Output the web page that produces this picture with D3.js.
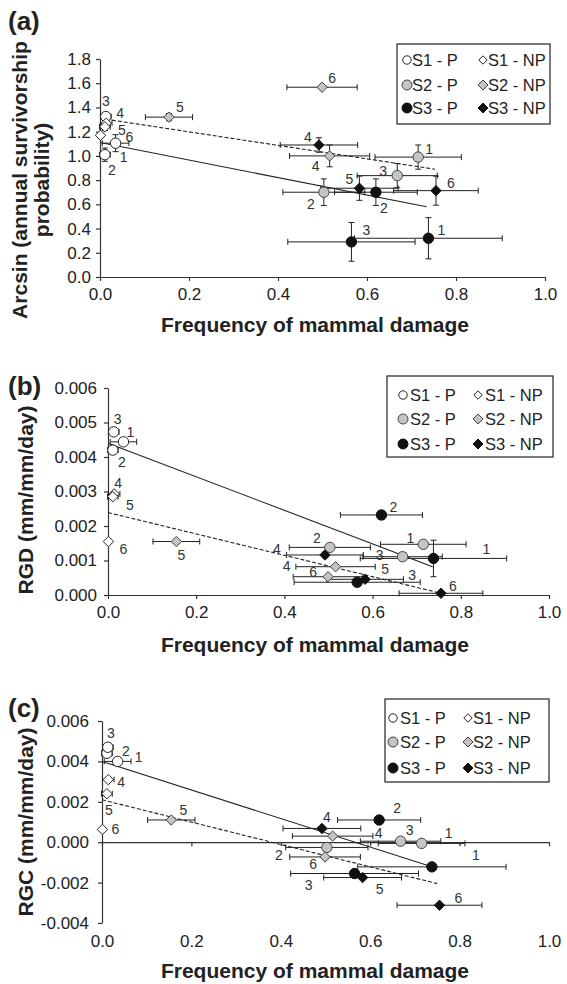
<!DOCTYPE html>
<meta charset="utf-8">
<style>
	body { margin: 0; background: #fff; }
	svg { display: block; font-family: "Liberation Sans", Arial, sans-serif; }
	.axis path, .axis line { stroke: #333; stroke-width: 1.2; }
	.axis text { font-size: 17px; fill: #222; font-family: "Liberation Sans", Arial, sans-serif; }
	.title { font-weight: bold; font-size: 21px; fill: #222; }
	.letter { font-weight: bold; font-size: 26px; fill: #222; }
	.ptlabel { font-size: 14px; fill: #333; text-anchor: middle; }
	.legend text { font-size: 16.5px; fill: #222; }
	.err { stroke: #222; stroke-width: 1; fill: none; }
</style>
<script src="https://d3js.org/d3.v7.min.js"></script>
<svg id="chart" width="567" height="984"></svg>
<script>

	// groups, in legend order (row by row)
	var groups = ["S1 - P", "S1 - NP", "S2 - P", "S2 - NP", "S3 - P", "S3 - NP"];
	var pointIds = [["1","2","3"], ["4","5","6"], ["1","2","3"], ["4","5","6"], ["1","2","3"], ["4","5","6"]];

	// frequency of mammal damage (same in all panels)
	var freq = [
		[0.035, 0.011, 0.013],
		[0.014, 0.011, 0.001],
		[0.715, 0.503, 0.668],
		[0.516, 0.155, 0.499],
		[0.738, 0.620, 0.565],
		[0.492, 0.583, 0.755]
	];
	var freqErr = [
		[0.030, 0.012, 0.012],
		[0.013, 0.012, 0],
		[0.097, 0.092, 0.090],
		[0.090, 0.053, 0.079],
		[0.166, 0.093, 0.143],
		[0.087, 0.087, 0.095]
	];

	// (a) arcsin annual survivorship
	var survival = [
		[1.105, 1.01, 1.325],
		[1.27, 1.24, 1.17],
		[0.99, 0.70, 0.837],
		[1.00, 1.32, 1.567],
		[0.32, 0.70, 0.29],
		[1.09, 0.733, 0.713]
	];
	var survivalErr = [
		[0.07, 0.055, 0.03],
		[0.03, 0.03, 0.02],
		[0.10, 0.11, 0.10],
		[0.09, 0.03, 0],
		[0.17, 0.11, 0.16],
		[0.06, 0.10, 0.12]
	];

	// (b) RGD
	var rgd = [
		[0.00444, 0.00420, 0.00473],
		[0.00293, 0.00285, 0.00155],
		[0.00147, 0.00138, 0.00111],
		[0.00082, 0.00155, 0.00053],
		[0.00106, 0.00232, 0.00037],
		[0.00116, 0.000455, 0.00005]
	];
	var rgdErr = [
		[0.00005, 0.00005, 0.00005],
		[0.00005, 0.00005, 0],
		[0.00005, 0.00005, 0.0001],
		[0.00005, 0.00005, 0.00005],
		[0.00053, 0.00012, 0.00005],
		[0.00008, 0.00005, 0.00005]
	];

	// (c) RGC
	var rgc = [
		[0.0040, 0.0044, 0.0047],
		[0.0031, 0.0024, 0.00063],
		[-0.00006, -0.00026, 0.00005],
		[0.0003, 0.0011, -0.00073],
		[-0.00122, 0.0011, -0.00155],
		[0.00068, -0.00175, -0.00312]
	];
	var rgcErr = [
		[0.00005, 0.00005, 0.00005],
		[0.00005, 0.00005, 0],
		[0.00005, 0.00005, 0.00005],
		[0.00005, 0.00005, 0.00005],
		[0.00005, 0.00012, 0.00005],
		[0.0001, 0.0001, 0.00008]
	];

	// regression lines (P solid, NP dashed): [x, y] end points
	var fitSurvivalP = [[0, 1.11], [0.734, 0.58]];
	var fitSurvivalNP = [[0, 1.31], [0.753, 0.89]];
	var fitRgdP = [[0, 0.0044], [0.736, 0.00082]];
	var fitRgdNP = [[0, 0.00239], [0.755, 0.00005]];
	var fitRgcP = [[0, 0.0040], [0.738, -0.00122]];
	var fitRgcNP = [[0, 0.0021], [0.75, -0.00205]];

	// tick labels
	var xTicks = [0, 0.2, 0.4, 0.6, 0.8, 1.0];
	var yTicksA = [0, 0.2, 0.4, 0.6, 0.8, 1.0, 1.2, 1.4, 1.6, 1.8];
	var yTicksB = [0, 0.001, 0.002, 0.003, 0.004, 0.005, 0.006];
	var yTicksC = [-0.004, -0.002, 0, 0.002, 0.004, 0.006];

	// point label offsets [dx, dy] per panel
	var offA = [
		[[8,14],[7,15],[0,-15]],
		[[14,-10],[17,3],[29,2]],
		[[11,-8],[-13,12],[-14,-5]],
		[[-14,10],[11,-10],[10,-9]],
		[[13,-8],[8,16],[15,-12]],
		[[-11,-8],[-10,-9],[15,-8]]
	];
	var offB = [
		[[7,-10],[9,12],[4,-13]],
		[[4,-11],[17,8],[15,8]],
		[[-13,-6],[-13,-9],[-23,-2]],
		[[-49,-1],[5,14],[-15,-5]],
		[[53,-9],[12,-8],[55,-7]],
		[[-48,-6],[20,-10],[12,-7]]
	];
	var offC = [
		[[21,-4],[19,-2],[3,-14]],
		[[13,3],[2,16],[13,0]],
		[[27,-10],[-48,8],[9,-11]],
		[[46,-3],[12,-10],[-12,7]],
		[[44,-12],[18,-12],[-46,12]],
		[[5,-11],[17,12],[19,-7]]
	];

	var fills = ["#fff", "#fff", "#c4c4c4", "#c4c4c4", "#111", "#111"];
	var strokes = ["#222", "#222", "#444", "#444", "#111", "#111"];

	var svg = d3.select("#chart");
	var minus = function(s) { return s.replace("\u2212", "-"); };

	var panels = [
		{ letter: "(a)", letterY: 30, y: survival, yErr: survivalErr, fits: [fitSurvivalP, fitSurvivalNP],
		  yTicks: yTicksA, fmt: ".1f", xr: [100, 545], yd: [0, 1.8], yr: [277, 59], pad: 5, off: offA,
		  ylab: ["Arcsin (annual survivorship", "probability)"], ylabX: [27, 49], ylabY: 180, titleY: 332,
		  leg: { x: 397, y: 44, w: 153, h: 80, rows: [16, 41, 64], mx: [10, 86], tx: [15, 91] } },
		{ letter: "(b)", letterY: 395, y: rgd, yErr: rgdErr, fits: [fitRgdP, fitRgdNP],
		  yTicks: yTicksB, fmt: ".3f", xr: [108, 549], yd: [0, 0.006], yr: [595, 388], pad: 7, off: offB,
		  ylab: ["RGD (mm/mm/day)"], ylabX: [33], ylabY: 500, titleY: 652,
		  leg: { x: 387, y: 376, w: 166, h: 81, rows: [19, 43, 68], mx: [16, 91], tx: [23, 98] } },
		{ letter: "(c)", letterY: 717, y: rgc, yErr: rgcErr, fits: [fitRgcP, fitRgcNP],
		  yTicks: yTicksC, fmt: ".3f", xr: [102, 549], yd: [-0.004, 0.006], yr: [923, 721], pad: 9, off: offC,
		  ylab: ["RGC (mm/mm/day)"], ylabX: [33], ylabY: 822, titleY: 978,
		  leg: { x: 385, y: 699, w: 164, h: 83, rows: [19, 43, 69], mx: [8, 83], tx: [15, 88] } }
	];

	function marker(sel, i, r) {
		if (i % 2 === 0) {
			sel.append("circle").attr("r", r)
				.attr("fill", fills[i]).attr("stroke", strokes[i]).attr("stroke-width", 1);
		} else {
			sel.append("path").attr("d", "M0," + (-r) + "L" + r + ",0L0," + r + "L" + (-r) + ",0Z")
				.attr("fill", fills[i]).attr("stroke", strokes[i]).attr("stroke-width", 1);
		}
	}

	panels.forEach(function(p) {
		var x = d3.scaleLinear().domain([0, 1]).range(p.xr);
		var y = d3.scaleLinear().domain(p.yd).range(p.yr);
		var g = svg.append("g");

		// y axis
		g.append("g").attr("class", "axis")
			.attr("transform", "translate(" + p.xr[0] + ",0)")
			.call(d3.axisLeft(y).tickValues(p.yTicks).tickSize(4).tickSizeOuter(0).tickPadding(p.pad)
				.tickFormat(function(d) { return minus(d3.format(p.fmt)(d)); }));

		// x axis at y = 0
		var y0 = y(0);
		var xa = g.append("g").attr("class", "axis")
			.attr("transform", "translate(0," + y0 + ")")
			.call(d3.axisBottom(x).tickValues(xTicks).tickSize(4).tickSizeOuter(0).tickPadding(7)
				.tickFormat(d3.format(".1f")));
		if (p.yd[0] < 0) {
			xa.selectAll("text").remove();
			g.append("g").attr("class", "axis")
				.attr("transform", "translate(0," + p.yr[0] + ")")
				.call(d3.axisBottom(x).tickValues(xTicks).tickSize(0).tickPadding(12)
					.tickFormat(d3.format(".1f")))
				.select(".domain").remove();
		}

		// error bars
		var cap = 3;
		groups.forEach(function(name, i) {
			freq[i].forEach(function(fx, j) {
				var cx = x(fx), cy = y(p.y[i][j]);
				var xe = freqErr[i][j], ye = p.yErr[i][j];
				if (xe > 0) {
					var x1 = x(fx - xe), x2 = x(fx + xe);
					g.append("path").attr("class", "err")
						.attr("d", "M" + x1 + "," + cy + "H" + x2 +
							"M" + x1 + "," + (cy - cap) + "V" + (cy + cap) +
							"M" + x2 + "," + (cy - cap) + "V" + (cy + cap));
				}
				if (ye > 0) {
					var y1 = y(p.y[i][j] - ye), y2 = y(p.y[i][j] + ye);
					g.append("path").attr("class", "err")
						.attr("d", "M" + cx + "," + y1 + "V" + y2 +
							"M" + (cx - cap) + "," + y1 + "H" + (cx + cap) +
							"M" + (cx - cap) + "," + y2 + "H" + (cx + cap));
				}
			});
		});

		// regression lines
		var line = d3.line().x(function(d) { return x(d[0]); }).y(function(d) { return y(d[1]); });
		g.append("path").attr("d", line(p.fits[0])).attr("fill", "none").attr("stroke", "#222").attr("stroke-width", 1.1);
		g.append("path").attr("d", line(p.fits[1])).attr("fill", "none").attr("stroke", "#222").attr("stroke-width", 1.1)
			.attr("stroke-dasharray", "4,2");

		// markers + labels
		groups.forEach(function(name, i) {
			freq[i].forEach(function(fx, j) {
				var m = g.append("g").attr("transform", "translate(" + x(fx) + "," + y(p.y[i][j]) + ")");
				marker(m, i, 5.2);
				g.append("text").attr("class", "ptlabel")
					.attr("x", x(fx) + p.off[i][j][0])
					.attr("y", y(p.y[i][j]) + p.off[i][j][1])
					.attr("dy", "0.35em")
					.text(pointIds[i][j]);
			});
		});

		// legend
		var L = p.leg;
		var lg = g.append("g").attr("class", "legend").attr("transform", "translate(" + L.x + "," + L.y + ")");
		lg.append("rect").attr("width", L.w).attr("height", L.h)
			.attr("fill", "#fff").attr("stroke", "#222").attr("stroke-width", 1.2);
		groups.forEach(function(name, i) {
			var col = i % 2, row = Math.floor(i / 2);
			var item = lg.append("g").attr("transform", "translate(0," + L.rows[row] + ")");
			var m = item.append("g").attr("transform", "translate(" + L.mx[col] + ",0)");
			marker(m, i, i < 2 ? 4.2 : 5);
			item.append("text").attr("x", L.tx[col]).attr("dy", "0.35em").text(name);
		});

		// titles
		g.append("text").attr("class", "title").attr("x", 315).attr("y", p.titleY)
			.attr("text-anchor", "middle").text("Frequency of mammal damage");
		p.ylab.forEach(function(t, k) {
			g.append("text").attr("class", "title")
				.attr("transform", "translate(" + p.ylabX[k] + "," + p.ylabY + ") rotate(-90)")
				.attr("text-anchor", "middle").text(t);
		});
		g.append("text").attr("class", "letter").attr("x", 8).attr("y", p.letterY).text(p.letter);
	});

</script>
